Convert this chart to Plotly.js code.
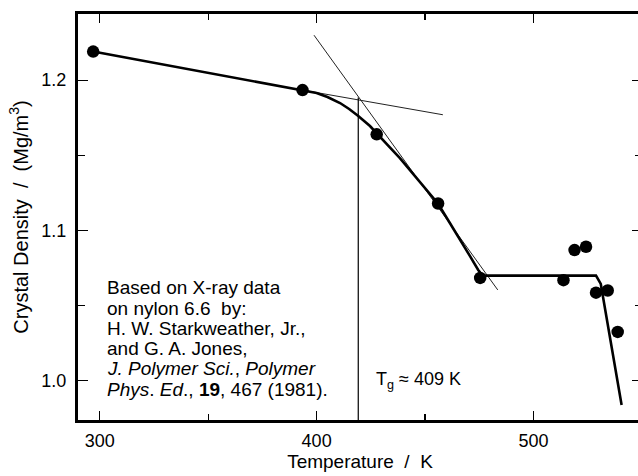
<!DOCTYPE html>
<html>
<head>
<meta charset="utf-8">
<script src="https://cdn.plot.ly/plotly-3.0.1.min.js"></script>
<style>
html,body{margin:0;padding:0;overflow:hidden;background:#fff;}
#chart{width:645px;height:476px;}
</style>
</head>
<body>
<div id="chart"></div>
<script>
// Measured data points (temperature K, crystal density Mg/m^3)
const pointT = [297, 393.5, 427.7, 456, 475.4, 513.8, 518.9, 524.2, 528.8, 534.2, 538.8];
const pointD = [1.219, 1.1934, 1.164, 1.118, 1.0685, 1.067, 1.087, 1.0892, 1.0587, 1.0601, 1.0326];

// Thick fitted curve (glassy line + knee + rubbery curve)
const curveT = [297, 393.5, 400, 405, 410.8, 415, 419.2, 424.6, 427.7, 433, 438.4, 447, 456, 461, 466, 470.5, 474.5, 476.5];
const curveD = [1.219, 1.1934, 1.1915, 1.1888, 1.1848, 1.1808, 1.1762, 1.1695, 1.1645, 1.1565, 1.1482, 1.1335, 1.1178, 1.106, 1.0937, 1.0835, 1.0738, 1.0700];

// Thick plateau and melting drop
const meltT = [476.5, 528.8, 531, 540.6];
const meltD = [1.0700, 1.0700, 1.0645, 0.9840];

// Thin tangent lines
const glassTanT = [393.5, 458.2];
const glassTanD = [1.1934, 1.1770];
const rubberTanT = [398.8, 483.5];
const rubberTanD = [1.2299, 1.0605];

// Vertical marker line at the tangent intersection
const tgLineT = [419.2, 419.2];
const tgLineD = [1.1885, 0.974];

const xTicks = [300, 400, 500];
const yTicks = [1.0, 1.1, 1.2];

// Source note lines
const noteLines = [
  'Based on X-ray data',
  'on nylon 6.6\u00a0 by:',
  'H. W. Starkweather, Jr.,',
  'and G. A. Jones,',
  '<i>J. Polymer</i> <i>Sci.</i>, <i>Polymer</i>',
  '<i>Phys</i>. <i>Ed</i>., <b>19</b>, 467 (1981).'
];

const FONT = 'Liberation Sans, Arial, sans-serif';

const traces = [
  {x: glassTanT, y: glassTanD, mode: 'lines', line: {color: '#222', width: 1}, hoverinfo: 'skip'},
  {x: rubberTanT, y: rubberTanD, mode: 'lines', line: {color: '#222', width: 1}, hoverinfo: 'skip'},
  {x: tgLineT, y: tgLineD, mode: 'lines', line: {color: '#000', width: 1.2}, hoverinfo: 'skip'},
  {x: curveT, y: curveD, mode: 'lines', line: {color: '#000', width: 2.6}, hoverinfo: 'skip'},
  {x: meltT, y: meltD, mode: 'lines', line: {color: '#000', width: 2.6}, hoverinfo: 'skip'},
  {x: pointT, y: pointD, mode: 'markers', marker: {color: '#000', size: 12.5, line: {width: 0}}}
];

// note placement (layout, not data)
const noteX = 302.6, noteTop = 1.0618, noteStep = 0.01345;
const annotations = noteLines.map((t, i) => ({
  xref: 'x', yref: 'y', x: noteX, y: noteTop - i * noteStep,
  xanchor: 'left', yanchor: 'middle', align: 'left', showarrow: false,
  font: {family: FONT, size: 19, color: '#000'}, text: t
}));
annotations.push({
  xref: 'x', yref: 'y', x: 426.3, y: 1.0005, xanchor: 'left', yanchor: 'middle', showarrow: false,
  font: {family: FONT, size: 18, color: '#000'},
  text: 'T<sub>g</sub> \u2248 409 K'
});

const layout = {
  width: 645, height: 476,
  margin: {l: 78, r: 3, t: 14, b: 56, pad: 0},
  paper_bgcolor: '#fff', plot_bgcolor: '#fff',
  showlegend: false,
  font: {family: FONT, color: '#000', size: 18},
  xaxis: {
    range: [290, 550], tickvals: xTicks, ticktext: xTicks.map(String),
    ticks: 'inside', ticklen: 9, tickwidth: 1.2, tickcolor: '#000',
    minor: {dtick: 50, tick0: 300, ticks: 'inside', ticklen: 6, tickwidth: 1.2, tickcolor: '#000'},
    showline: true, linewidth: 3, linecolor: '#000', mirror: 'ticks',
    showgrid: false, zeroline: false,
    tickfont: {family: FONT, size: 18},
    ticklabelstandoff: 2,
    title: {text: 'Temperature\u00a0\u00a0/\u00a0\u00a0K', font: {family: FONT, size: 19}, standoff: 6}
  },
  yaxis: {
    range: [0.974, 1.244], tickvals: yTicks, ticktext: ['1.0', '1.1', '1.2'],
    ticks: 'inside', ticklen: 10, tickwidth: 1.2, tickcolor: '#000',
    minor: {dtick: 0.05, tick0: 1.0, ticks: 'inside', ticklen: 7, tickwidth: 1.2, tickcolor: '#000'},
    showline: true, linewidth: 3, linecolor: '#000', mirror: 'ticks',
    showgrid: false, zeroline: false,
    tickfont: {family: FONT, size: 18},
    ticklabelstandoff: 5,
    title: {text: 'Crystal Density\u00a0\u00a0/\u00a0\u00a0(Mg/m<sup>3</sup>)', font: {family: FONT, size: 20}, standoff: 8}
  },
  annotations: annotations
};

Plotly.newPlot('chart', traces, layout, {staticPlot: true, displayModeBar: false});
</script>
</body>
</html>
